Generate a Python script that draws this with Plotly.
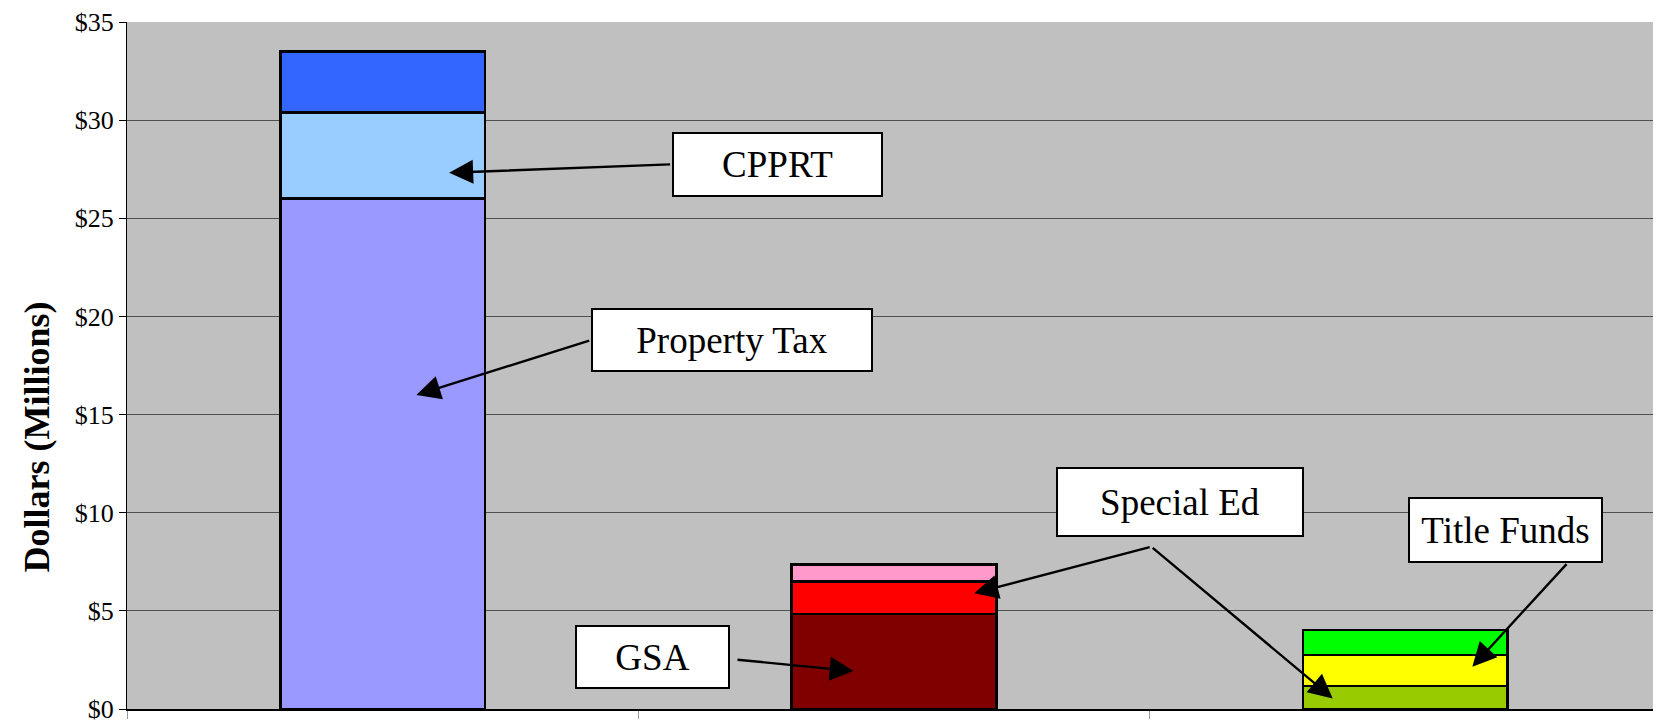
import plotly.graph_objects as go

# three funding groups (no x labels shown in the original)
groups = ['Local', 'State', 'Federal']

# stacked segments, $ millions, bottom to top
seg_names = [
    ['Property Tax', 'CPPRT', 'Other Local'],
    ['GSA', 'Special Ed', 'Other State'],
    ['Title Funds A', 'Title Funds B', 'Title Funds C'],
]
seg_values = [
    [26.0, 4.4, 3.1],
    [4.83, 1.67, 0.85],
    [1.18, 1.56, 1.29],
]
seg_colors = [
    ['#9999FF', '#99CCFF', '#3366FF'],
    ['#800000', '#FF0000', '#FF99CC'],
    ['#99CC00', '#FFFF00', '#00FF00'],
]

FONT = 'Liberation Serif, Times New Roman, serif'

fig = go.Figure()
for gi, g in enumerate(groups):
    for name, val, col in zip(seg_names[gi], seg_values[gi], seg_colors[gi]):
        fig.add_bar(x=[g], y=[val], name=name, marker_color=col,
                    marker_line_color='black', marker_line_width=2.5,
                    showlegend=False, hoverinfo='y+name')

# callout boxes: text, center x (category index), center y, width, height
boxes = [
    ('CPPRT', 0.772, 27.75, 205, 59),
    ('Property Tax', 0.683, 18.79, 276, 58),
    ('GSA', 0.528, 2.63, 149, 58),
    ('Special Ed', 1.559, 10.57, 242, 64),
    ('Title Funds', 2.195, 9.13, 189, 60),
]
for txt, bx, by, bw, bh in boxes:
    fig.add_annotation(x=bx, y=by, xref='x', yref='y', text=txt, showarrow=False,
                       width=bw, height=bh, bgcolor='white', bordercolor='black',
                       borderwidth=2, borderpad=1,
                       font=dict(family=FONT, size=37, color='black'))

# arrows: tail (ax, ay) -> head (x, y)
arrows = [
    (0.565, 27.75, 0.130, 27.32),
    (0.407, 18.79, 0.066, 16.0),
    (0.691, 2.52, 0.921, 1.93),
    (1.503, 8.27, 1.157, 5.90),
    (1.503, 8.27, 1.858, 0.54),
    (2.318, 7.46, 2.131, 2.15),
]
for ax, ay, hx, hy in arrows:
    fig.add_annotation(x=hx, y=hy, ax=ax, ay=ay, xref='x', yref='y',
                       axref='x', ayref='y', text='', showarrow=True,
                       arrowhead=2, arrowsize=2.0, arrowwidth=2.4,
                       arrowcolor='black')

# y axis title sits a bit below the middle in the original, so place it by hand
fig.add_annotation(x=-0.059, y=0.396, xref='paper', yref='paper',
                   text='<b>Dollars (Millions)</b>', textangle=-90,
                   showarrow=False, xanchor='center', yanchor='middle',
                   font=dict(family=FONT, size=36, color='black'))

# page body has an 8px margin, so the figure is sized to fit inside the window
fig.update_layout(
    barmode='stack',
    bargap=0.6,
    width=1653, height=716,
    margin=dict(l=119, r=0, t=9, b=13),
    plot_bgcolor='#C0C0C0',
    paper_bgcolor='white',
    font=dict(family=FONT, color='black'),
)
fig.update_xaxes(range=[-0.5, 2.5], showticklabels=False, ticks='outside',
                 tickson='boundaries', ticklen=8, tickcolor='#999999',
                 showline=True, linecolor='black', linewidth=1.5,
                 showgrid=False, zeroline=False)
fig.update_yaxes(range=[0, 35], dtick=5, tickprefix='$', ticks='outside',
                 ticklen=7, tickcolor='black', showline=True, linecolor='black',
                 linewidth=1, gridcolor='#505050', gridwidth=1, zeroline=False,
                 ticklabeloverflow='allow',
                 tickfont=dict(family=FONT, size=26))

fig.write_html('out.html')
